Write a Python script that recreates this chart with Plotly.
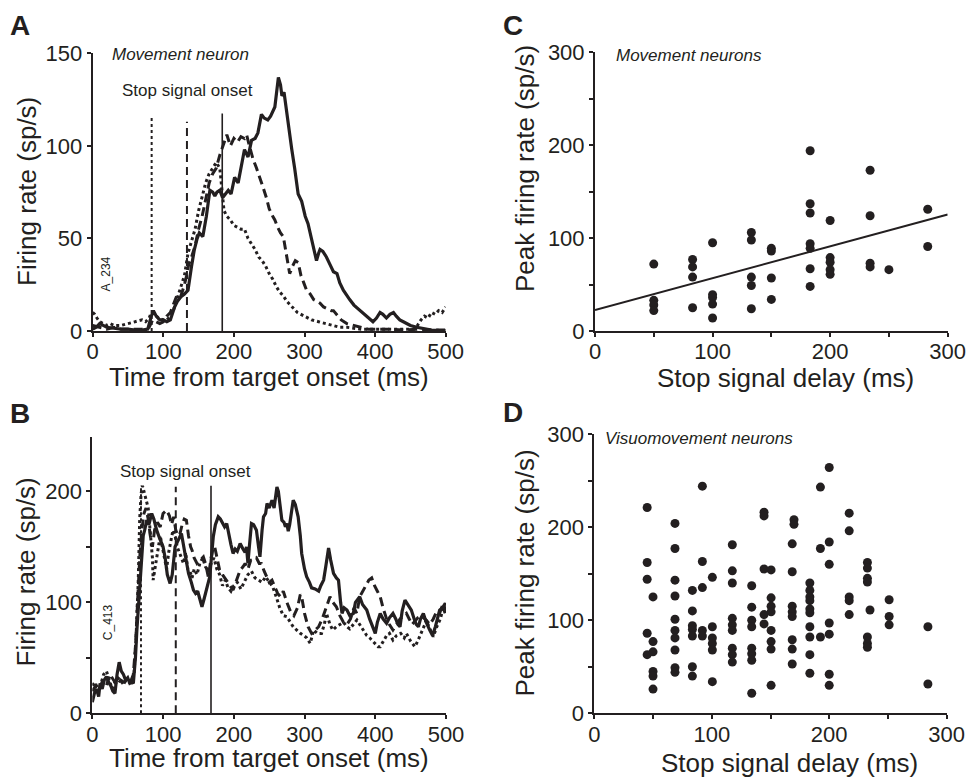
import plotly.graph_objects as go

INK = "#231f20"
FONT = "Liberation Sans, Arial, Helvetica, sans-serif"

# ---------------- Panel A : movement neuron (time ms, firing rate sp/s)
a_solid_t = [0,5,10,15,20,30,40,50,60,70,78,83,86,90,95,100,105,110,116,120,125,130,135,140,144,148,151,156,161,166,170,173,176,180,184,188,192,196,201,206,210,215,220,225,230,234,239,243,248,252,258,261,263,266,268,271,274,278,282,286,291,296,301,305,308,312,317,320,322,326,331,336,341,346,350,355,360,364,370,379,385,392,397,402,407,411,416,421,426,430,435,440,450,459,470,480,490,500]
a_solid_v = [1,2,4,3,2,1.5,1,1,0.5,0.5,1,8,11,8,6,6,5,6,13,16,18.5,20,22,35,44,50,53,51,62,76,75,73,75,76,72,74,76,74,83,80,89,98,94,103,104,107,117,115,114,116,121,130,137,133,127,129,120,108,98,88,74,70,62,58,53,48,38,42,44,43,40,36,32,31,26,22,19,17,14,11,9,7,5,7,10,9,7,9,10,8,6,5,3,2,1,0.5,0.3,0.2]

a_dash_t = [0,10,20,30,40,50,60,70,80,85,90,95,100,105,110,115,120,125,130,133,136,140,145,150,155,160,165,170,175,180,185,190,195,200,205,210,215,218,222,227,232,237,241,246,250,255,258,262,266,270,273,276,279,283,287,291,295,299,303,308,313,318,322,327,333,338,341,347,352,360,370,380,390,400,420,440,460,480,500]
a_dash_v = [3,2,1,2,1,1,1,1,2,6,5,4,5,8,10,15,20,19,25,30,36,40,46,55,62,71,80,85,88,95,100,106,100,104,102,105,104,106,100,93,88,83,78,72,66,62,60,56,53,51,45,38,31,35,38,37,30,26,22,20,17,16,15,13,12,11,11,8,6,4,3,2,1,1,1,0.5,1,0.5,0.5]

a_dot_t = [0,3,6,10,15,20,25,30,40,50,60,70,75,80,83,88,93,100,105,110,115,120,125,130,135,140,145,150,155,160,165,170,175,180,183,186,190,195,200,205,210,215,220,225,230,235,240,245,250,255,260,265,270,275,280,285,290,295,300,310,320,330,340,350,360,380,400,420,440,455,460,465,470,475,480,485,490,495,500]
a_dot_v = [10,9,7,5,4,3,4,3,3,4,5,6,5,7,10,9,7,6,6,8,12,18,24,30,42,48,55,65,72,80,85,88,91,88,75,65,62,60,57,56,55,55,50,47,44,40,38,35,31,28,24,21,19,16,14,12,10,9,8,6,5,4,3,2,2,1,1,1,1,1,3,6,8,7,10,9,11,10,13]

# stop-signal delays (vertical markers) and their drawn heights
a_ssd = [83.5, 133.5, 183.5]
a_ssd_top = [116.5, 113, 117.5]

# ---------------- Panel B : visuomovement neuron
b_solid_t = [0,3,6,9,11,14,17,20,23,26,29,32,35,38,41,44,47,50,53,56,58,61,63,65,67,69,70,72,74,77,80,84,87,91,95,100,103,106,110,113,117,120,123,126,129,132,136,140,143,146,149,152,155,158,161,164,166,169,171,174,178,181,184,187,190,193,196,199,202,205,209,213,216,218,220,222,225,228,232,235,237,240,242,245,247,250,254,257,259,261,263,266,268,271,273,275,277,279,282,284,287,289,291,294,296,300,303,307,310,315,320,323,327,330,332,334,337,341,345,348,351,353,356,360,364,369,372,375,378,382,385,388,392,396,400,403,407,411,416,420,425,429,432,435,438,442,446,451,455,458,461,464,468,472,477,481,485,488,491,495,499,500]
b_solid_v = [10,18,22,15,27,22,30,33,28,25,20,18,35,46,38,35,30,32,27,28,27,50,75,95,111,135,150,160,165,174,170,180,175,165,158,150,140,125,117,125,150,155,158,162,150,138,126,118,111,108,110,103,96,103,112,118,123,145,159,170,177,175,172,168,171,160,152,144,148,146,153,148,145,150,135,150,171,170,165,150,141,165,177,180,189,185,192,185,195,204,200,185,174,172,168,171,164,170,185,192,188,183,177,160,144,130,123,118,113,112,110,115,120,132,140,149,138,126,122,120,100,90,95,93,88,90,100,103,105,98,95,93,85,78,72,82,90,85,81,86,90,85,80,78,92,102,98,93,85,80,78,85,90,82,75,70,78,85,93,95,99,97]

b_dash_t = [0,5,10,15,20,25,30,35,40,45,50,55,58,61,64,67,70,73,76,79,82,85,88,92,96,100,105,109,112,115,118,121,124,127,130,133,136,139,141,144,148,152,157,160,164,168,171,173,176,180,184,187,190,195,199,204,209,213,216,220,224,228,232,236,239,243,246,250,254,258,262,266,270,275,280,285,290,294,296,300,305,310,315,320,325,330,336,340,345,350,355,360,365,370,374,378,382,386,391,395,399,403,407,411,416,420,425,430,435,440,444,448,452,456,460,465,472,477,482,487,491,496,500]
b_dash_v = [20,25,22,30,25,35,30,25,30,28,27,30,35,60,100,140,165,180,185,175,160,150,165,172,168,180,183,178,170,177,165,160,162,170,175,174,160,150,147,140,135,138,141,135,123,140,150,150,140,129,125,122,120,115,111,120,129,132,135,130,138,138,140,135,135,128,123,118,120,114,108,105,110,100,92,88,95,107,105,90,78,72,75,78,85,95,105,100,96,88,82,80,85,95,90,105,110,115,120,122,115,110,105,95,85,80,75,80,85,88,90,85,80,83,86,88,84,80,85,92,90,99,92]

b_dot_t = [0,4,8,12,16,20,24,28,32,36,40,44,48,52,56,59,62,65,67,69,71,73,75,77,79,81,83,85,86,88,90,93,96,99,102,105,108,111,114,117,120,123,126,129,132,135,138,141,144,148,152,156,160,164,168,172,176,180,184,188,192,196,200,205,210,215,220,225,230,235,240,245,250,255,260,265,270,275,280,284,289,294,299,303,308,313,318,324,328,331,336,340,345,350,355,360,364,369,374,378,383,388,392,396,400,404,407,412,416,420,425,430,436,441,444,450,456,460,465,470,472,476,482,487,492,496,500]
b_dot_v = [25,28,20,26,35,38,30,22,28,32,30,26,30,28,29,35,70,120,175,198,205,200,195,190,185,170,155,140,120,128,135,148,160,150,140,130,145,155,165,160,150,145,140,135,145,130,128,122,130,125,135,140,132,128,135,140,130,125,115,120,113,110,115,118,112,118,125,128,122,120,118,123,118,114,105,95,88,87,82,78,75,72,70,68,63,75,72,72,80,90,80,75,78,80,82,78,76,80,84,80,75,70,68,65,62,60,60,65,70,72,66,70,72,68,72,65,60,65,72,80,84,78,69,78,85,95,88]

b_ssd = [68.8, 118, 167.8]
b_ssd_top = [205.7, 204, 205]

# ---------------- Panel C : movement neurons (SSD ms, peak rate sp/s)
c_ssd = [50,50,50,50, 83,83,83,83, 100,100,100,100,100, 133,133,133,133,133,
         150,150,150,150, 183,183,183,183,183,183,183, 200,200,200,200,200,
         234,234,234,234, 250, 283,283]
c_peak = [72,33,28,22, 77,69,58,25, 95,39,36,29,14, 106,98,58,49,24,
          89,86,57,34, 194,137,127,94,89,67,48, 119,79,74,66,61,
          173,124,73,69, 66, 131,91]
c_fit_x = [0, 300]
c_fit_y = [22.5, 125.5]

# ---------------- Panel D : visuomovement neurons
d_ssd = [45,45,45,45,45,
         50,50,50,50,50,50,
         68.7,68.7,68.7,68.7,68.7,68.7,68.7,68.7,68.7,68.7,
         83.5,83.5,83.5,83.5,83.5,83.5,83.5,
         92,92,92,92,92,
         100.5,100.5,100.5,100.5,100.5,100.5,
         117.5,117.5,117.5,117.5,117.5,117.5,117.5,117.5,117.5,
         134,134,134,134,134,134,134,134,
         144.5,144.5,144.5,144.5,144.5,
         150.5,150.5,150.5,150.5,150.5,150.5,150.5,150.5,
         168.5,168.5,168.5,168.5,168.5,168.5,168.5,168.5,
         170,170,
         183.5,183.5,183.5,183.5,183.5,183.5,183.5,183.5,183.5,183.5,
         192.5,192.5,192.5,
         200,200,200,200,200,200,200,
         217,217,217,217,217,
         232.5,232.5,232.5,232.5,232.5,232.5,232.5,
         234.7,
         251,251,251,
         284,284]
d_peak = [221,162,144,86,63,
          125,77,66,45,40,26,
          204,177,143,126,101,89,81,68,49,44,
          132,110,94,90,83,50,40,
          244,163,135,89,83,
          146,93,81,75,68,34,
          181,153,140,102,95,89,70,63,55,
          137,114,100,93,70,64,57,21.5,
          216,212,155,106,96,
          154,124,115,109,89,77,69,30,
          182,152,115,109,104,79,69,53,
          208,203,
          140,132,125,121,112,108,93,82,63,43,
          243,177,82,
          264,184,160,97,85,42,30,
          215,196,125,121,106,
          162,156,145,141,82,75,71,
          111,
          122,104,95,
          93,31.5]

# ---------------- figure
fig = go.Figure()

def curves(xa, ya, t_s, v_s, t_d, v_d, t_o, v_o):
    fig.add_trace(go.Scatter(x=t_o, y=v_o, mode="lines", xaxis=xa, yaxis=ya,
                             line=dict(color=INK, width=3, dash="3px,3px")))
    fig.add_trace(go.Scatter(x=t_d, y=v_d, mode="lines", xaxis=xa, yaxis=ya,
                             line=dict(color=INK, width=3, dash="9px,5px")))
    fig.add_trace(go.Scatter(x=t_s, y=v_s, mode="lines", xaxis=xa, yaxis=ya,
                             line=dict(color=INK, width=3.2)))

def stoplines(xa, ya, ssd, top):
    styles = [dict(width=2, dash="3px,3px"), dict(width=2, dash="8px,5px"), dict(width=1.6)]
    for s, h, st in zip(ssd, top, styles):
        fig.add_trace(go.Scatter(x=[s, s], y=[0, h], mode="lines", xaxis=xa, yaxis=ya,
                                 line=dict(color=INK, **st)))

stoplines("x", "y", a_ssd, a_ssd_top)
curves("x", "y", a_solid_t, a_solid_v, a_dash_t, a_dash_v, a_dot_t, a_dot_v)
stoplines("x3", "y3", b_ssd, b_ssd_top)
curves("x3", "y3", b_solid_t, b_solid_v, b_dash_t, b_dash_v, b_dot_t, b_dot_v)

fig.add_trace(go.Scatter(x=c_ssd, y=c_peak, mode="markers", xaxis="x2", yaxis="y2",
                         marker=dict(color=INK, size=9, line=dict(width=0))))
fig.add_trace(go.Scatter(x=c_fit_x, y=c_fit_y, mode="lines", xaxis="x2", yaxis="y2",
                         line=dict(color=INK, width=2), cliponaxis=False))
fig.add_trace(go.Scatter(x=d_ssd, y=d_peak, mode="markers", xaxis="x4", yaxis="y4",
                         marker=dict(color=INK, size=9, line=dict(width=0))))

W, H = 968, 778
def px(x): return x / W
def py(y): return 1 - y / H

minor50 = dict(dtick=50, ticks="outside", ticklen=4, tickwidth=1.5, tickcolor=INK)
axbase = dict(showline=True, linecolor=INK, linewidth=2, ticks="outside", ticklen=4,
              tickwidth=1.5, tickcolor=INK, showgrid=False, zeroline=False, automargin=False,
              tickfont=dict(family=FONT, size=22, color=INK), fixedrange=True)
xbase = dict(axbase, ticklabelstandoff=-4)

fig.update_layout(
    width=W, height=H, autosize=False,
    margin=dict(l=0, r=0, t=0, b=0, pad=0, autoexpand=False),
    paper_bgcolor="white", plot_bgcolor="white", showlegend=False,
    font=dict(family=FONT, color=INK),
    xaxis=dict(xbase, domain=[px(92.7), px(445.7)], range=[0, 500], dtick=100, anchor="y"),
    yaxis=dict(axbase, domain=[py(331), py(53.3)], range=[0, 150], dtick=50, anchor="x"),
    xaxis2=dict(xbase, domain=[px(595), px(947.7)], range=[0, 300], dtick=100, anchor="y2",
                minor=minor50),
    yaxis2=dict(axbase, domain=[py(331), py(52.3)], range=[0, 300], dtick=100, anchor="x2",
                minor=minor50),
    xaxis3=dict(xbase, domain=[px(92.3), px(446)], range=[0, 500], dtick=100, anchor="y3"),
    yaxis3=dict(axbase, domain=[py(713.3), py(436.7)], range=[0, 249.2], dtick=100, anchor="x3",
                minor=minor50),
    xaxis4=dict(xbase, domain=[px(594.3), px(946.7)], range=[0, 300], dtick=100, anchor="y4",
                minor=minor50),
    yaxis4=dict(axbase, domain=[py(713.3), py(434)], range=[0, 300], dtick=100, anchor="x4",
                minor=minor50),
)

ann = []
def text(x, y, s, size, xref="paper", yref="paper", xanchor="center", yanchor="middle",
         angle=0, bold=False, italic=False):
    if bold:
        s = "<b>" + s + "</b>"
    if italic:
        s = "<i>" + s + "</i>"
    ann.append(dict(x=x, y=y, text=s, xref=xref, yref=yref, xanchor=xanchor, yanchor=yanchor,
                    textangle=angle, showarrow=False,
                    font=dict(family=FONT, size=size, color=INK)))

# panel letters
for L, (xx, yy) in {"A": (19.5, 25), "C": (513, 25), "B": (19.5, 413), "D": (513, 412.5)}.items():
    text(px(xx), py(yy), L, 28, bold=True)

# axis titles
text(px(27), py(192), "Firing rate (sp/s)", 26, angle=-90)
text(px(25), py(572.5), "Firing rate (sp/s)", 26, angle=-90)
text(px(525), py(169), "Peak firing rate (sp/s)", 26, angle=-90)
text(px(524), py(573.5), "Peak firing rate (sp/s)", 26, angle=-90)
text(px(269), py(377), "Time from target onset (ms)", 26)
text(px(269), py(758), "Time from target onset (ms)", 26)
text(px(785), py(378), "Stop signal delay (ms)", 26)
text(px(789.5), py(763), "Stop signal delay (ms)", 26)

# in-plot labels
text(24.5, 149.2, "Movement neuron", 17, xref="x", yref="y", xanchor="left", italic=True)
text(134.5, 130, "Stop signal onset", 17, xref="x", yref="y")
text(18.6, 31, "A_234", 12, xref="x", yref="y", angle=-90)
text(8.5, 250, "Visuomovement neuron", 17, xref="x3", yref="y3", xanchor="left", italic=True)
text(131.7, 218, "Stop signal onset", 17, xref="x3", yref="y3")
text(22, 82, "C_413", 12, xref="x3", yref="y3", angle=-90)
text(16.4, 297, "Movement neurons", 17, xref="x2", yref="y2", xanchor="left", italic=True)
text(7.2, 295, "Visuomovement neurons", 17, xref="x4", yref="y4", xanchor="left", italic=True)

fig.update_layout(annotations=ann)
fig.write_html("out.html", config={"displayModeBar": False},
               post_script="document.body.style.margin='0';document.body.style.overflow='hidden';")
